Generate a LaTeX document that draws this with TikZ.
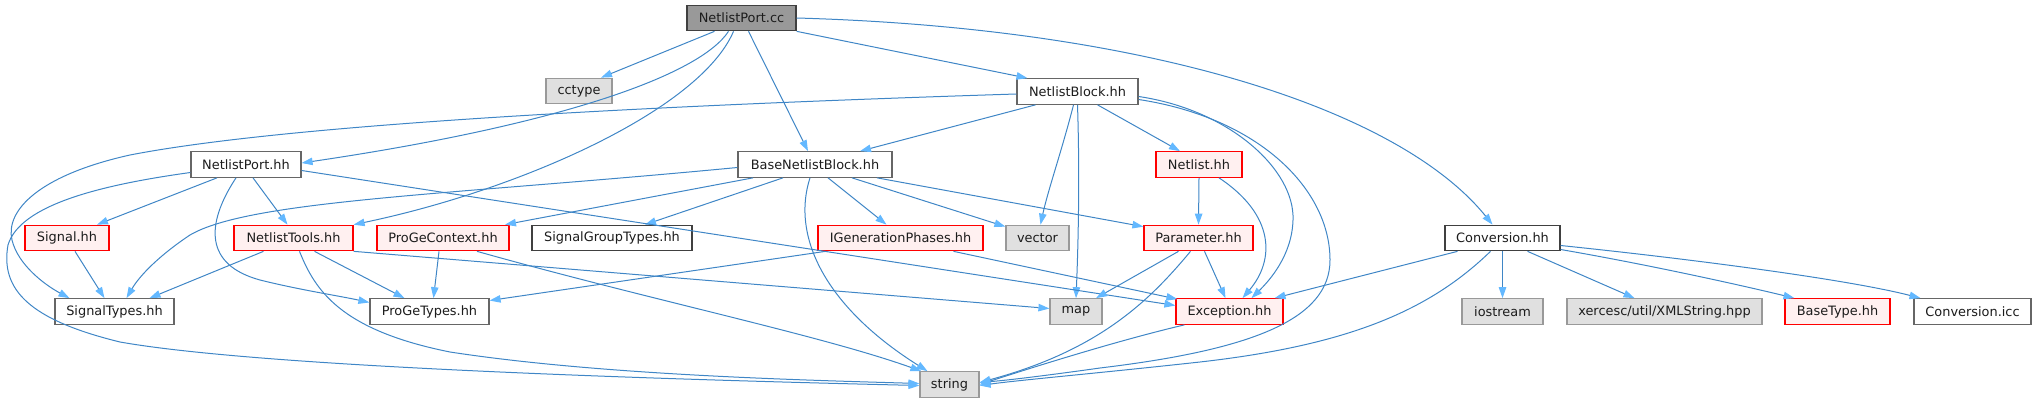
\documentclass[tikz,border=0pt]{standalone}
\usepackage{fontspec}
\setmainfont{DejaVu Sans}
\usetikzlibrary{arrows.meta}
\definecolor{linec}{HTML}{3F86C6}
\definecolor{arrowc}{HTML}{63B8FF}
\definecolor{txt}{HTML}{1C1C1C}
\definecolor{gsix}{HTML}{666666}
\definecolor{gfour}{HTML}{404040}
\definecolor{gnine}{HTML}{999999}
\definecolor{gfill}{HTML}{E0E0E0}
\definecolor{rfill}{HTML}{FFF0F0}
\definecolor{rdraw}{HTML}{FF0000}
\tikzset{
 box/.style={draw, rectangle, inner sep=0pt, minimum height=25.5pt, line width=1.2pt, font=\fontsize{12.9}{15}\selectfont, text=txt},
 wbox/.style={box, fill=white, draw=gsix},
 dbox/.style={box, fill=white, draw=gfour},
 gbox/.style={box, fill=gfill, draw=gnine},
 rbox/.style={box, fill=rfill, draw=rdraw},
 curbox/.style={box, fill=gnine, draw=gfour},
 edge/.style={draw=linec, line width=1pt, -{Triangle[length=11pt,width=7.5pt,color=arrowc]}}
}
\begin{document}
\begin{tikzpicture}[x=1pt,y=-1pt]
\useasboundingbox (0,0) rectangle (2036,403);
% nodes
\node[curbox, minimum width=109] (NPcc) at (741.5,18) {NetlistPort.cc};
\node[gbox, minimum width=66] (cctype) at (579,91) {cctype};
\node[wbox, minimum width=121] (NBhh) at (1077.5,91.5) {NetlistBlock.hh};
\node[wbox, minimum width=110] (NPhh) at (246,164.5) {NetlistPort.hh};
\node[wbox, minimum width=154] (BNB) at (815,164.5) {BaseNetlistBlock.hh};
\node[rbox, minimum width=86] (Netlist) at (1199,164.5) {Netlist.hh};
\node[rbox, minimum width=84] (Signal) at (67,238) {Signal.hh};
\node[rbox, minimum width=119] (NTools) at (293.5,238) {NetlistTools.hh};
\node[rbox, minimum width=132] (PGC) at (443,238) {ProGeContext.hh};
\node[dbox, minimum width=160] (SGT) at (612,238) {SignalGroupTypes.hh};
\node[rbox, minimum width=165] (IGP) at (900.5,238) {IGenerationPhases.hh};
\node[gbox, minimum width=63] (vector) at (1037.5,238) {vector};
\node[rbox, minimum width=109] (Param) at (1198.5,238) {Parameter.hh};
\node[dbox, minimum width=115] (Conv) at (1502.5,238) {Conversion.hh};
\node[wbox, minimum width=119] (SigTypes) at (114.5,311.5) {SignalTypes.hh};
\node[wbox, minimum width=119] (PGT) at (429.5,311.5) {ProGeTypes.hh};
\node[gbox, minimum width=52] (map) at (1076,311.5) {map};
\node[rbox, minimum width=107] (Exc) at (1229.5,311.5) {Exception.hh};
\node[gbox, minimum width=81] (iostream) at (1502.5,311.5) {iostream};
\node[gbox, minimum width=195] (xerces) at (1664.5,311.5) {xercesc/util/XMLString.hpp};
\node[rbox, minimum width=105] (BaseType) at (1837.5,311.5) {BaseType.hh};
\node[wbox, minimum width=117] (ConvIcc) at (1972.5,311.5) {Conversion.icc};
\node[gbox, minimum width=59] (string) at (949.5,384.5) {string};
% edges from NetlistPort.cc
\draw[edge] ([xshift=-27]NPcc.south) -- ([xshift=22]cctype.north);
\draw[edge] ([xshift=-13]NPcc.south) .. controls (700,75) and (560,125) .. ([yshift=1.5]NPhh.east);
\draw[edge] ([xshift=-8]NPcc.south) .. controls (700,110) and (520,190) .. (NTools.north east);
\draw[edge] ([xshift=7]NPcc.south) -- ([xshift=-7]BNB.north);
\draw[edge] (NPcc.south east) -- ([xshift=-50]NBhh.north);
\draw[edge] (NPcc.east) .. controls (1150,28) and (1400,110) .. ([xshift=-10]Conv.north);
% edges from NetlistBlock.hh
\draw[edge] ([yshift=-2.5]NBhh.west) .. controls (700,104) and (300,122) .. (130,155) .. controls (40,175) and (5,210) .. (12,240) .. controls (18,265) and (45,285) .. ([xshift=-45]SigTypes.north);
\draw[edge] ([xshift=-42]NBhh.south) -- ([xshift=45]BNB.north);
\draw[edge] ([xshift=-4]NBhh.south) .. controls (1062,150) and (1048,190) .. ([xshift=3]vector.north);
\draw[edge] (NBhh.south) .. controls (1080,180) and (1078,250) .. (map.north);
\draw[edge] ([xshift=20]NBhh.south) -- ([xshift=-19]Netlist.north);
\draw[edge] ([yshift=-5]NBhh.east) .. controls (1230,110) and (1295,170) .. (1293,220) .. controls (1292,255) and (1270,280) .. ([xshift=22]Exc.north);
\draw[edge] ([yshift=-8]NBhh.east) .. controls (1260,118) and (1330,190) .. (1330,260) .. controls (1330,320) and (1250,350) .. (1100,368) .. controls (1050,375) and (1010,380) .. ([yshift=2]string.east);
% edges from BaseNetlistBlock.hh
\draw[edge] ([yshift=-3]BNB.west) .. controls (450,195) and (250,200) .. (190,235) .. controls (160,255) and (140,275) .. ([xshift=12]SigTypes.north);
\draw[edge] ([xshift=-62]BNB.south) -- ([xshift=62]PGC.north);
\draw[edge] ([xshift=-32]BNB.south) -- ([xshift=33]SGT.north);
\draw[edge] ([xshift=13]BNB.south) -- ([xshift=-14]IGP.north);
\draw[edge] ([xshift=37]BNB.south) -- ([yshift=-2]vector.north west);
\draw[edge] ([xshift=62]BNB.south) -- ([yshift=-2]Param.north west);
\draw[edge] ([xshift=-5]BNB.south) .. controls (790,240) and (830,310) .. ([xshift=-22]string.north);
% edges from NetlistPort.hh
\draw[edge] ([xshift=-29]NPhh.south) -- ([xshift=30]Signal.north);
\draw[edge] ([xshift=7]NPhh.south) -- ([xshift=-6]NTools.north);
\draw[edge] ([xshift=-10]NPhh.south) .. controls (205,225) and (205,265) .. (260,280) .. controls (300,290) and (340,296) .. ([yshift=9]PGT.west);
\draw[edge] ([yshift=-6]NPhh.east) -- ([yshift=6]Exc.west);
\draw[edge] ([yshift=-8]NPhh.west) .. controls (100,185) and (20,205) .. (8,245) .. controls (0,290) and (30,320) .. (120,342) .. controls (250,365) and (600,378) .. ([yshift=-1]string.west);
% edges from NetlistTools.hh
\draw[edge] ([xshift=-30]NTools.south) -- ([xshift=35]SigTypes.north);
\draw[edge] ([xshift=21]NTools.south) -- ([xshift=-25]PGT.north);
\draw[edge] ([xshift=6]NTools.south) .. controls (315,290) and (340,330) .. (450,352) .. controls (600,375) and (800,380) .. ([yshift=1]string.west);
\draw[edge] (NTools.south east) -- ([yshift=3]map.west);
% ProGeContext, IGenerationPhases, Signal
\draw[edge] ([xshift=-4]PGC.south) -- ([xshift=4]PGT.north);
\draw[edge] ([xshift=34]PGC.south) .. controls (650,300) and (820,335) .. ([xshift=2]string.north west);
\draw[edge] ([xshift=-75]IGP.south) -- ([yshift=11]PGT.east);
\draw[edge] ([xshift=53]IGP.south) -- ([xshift=2,yshift=-1]Exc.north west);
\draw[edge] ([xshift=8]Signal.south) -- ([xshift=-10]SigTypes.north);
% Netlist, Parameter, Exception
\draw[edge] (Netlist.south) -- (Param.north);
\draw[edge] ([xshift=20]Netlist.south) .. controls (1275,215) and (1275,260) .. ([xshift=13]Exc.north);
\draw[edge] ([xshift=-20]Param.south) -- ([xshift=20]map.north);
\draw[edge] ([xshift=-8]Param.south) .. controls (1150,300) and (1100,350) .. ([yshift=2]string.east);
\draw[edge] ([xshift=6]Param.south) -- ([xshift=-4]Exc.north);
\draw[edge] ([xshift=-45]Exc.south) .. controls (1120,340) and (1040,365) .. (string.east);
% Conversion.hh
\draw[edge] ([xshift=-45]Conv.south) -- ([xshift=45]Exc.north);
\draw[edge] ([xshift=-12]Conv.south) .. controls (1430,310) and (1350,345) .. (1200,362) .. controls (1100,373) and (1020,380) .. ([yshift=-1]string.east);
\draw[edge] (Conv.south) -- (iostream.north);
\draw[edge] ([xshift=25]Conv.south) -- ([xshift=-30]xerces.north);
\draw[edge] ([yshift=-11.5]Conv.east) .. controls (1650,265) and (1740,285) .. ([xshift=-43]BaseType.north);
\draw[edge] ([yshift=-7.5]Conv.east) .. controls (1700,260) and (1850,280) .. ([xshift=-52]ConvIcc.north);
\end{tikzpicture}
\end{document}
